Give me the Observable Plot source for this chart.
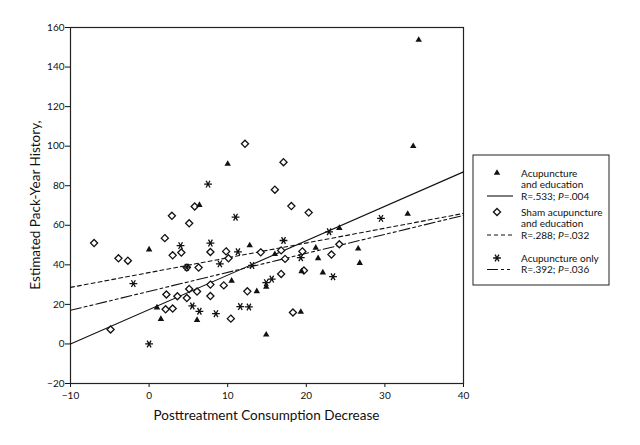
<!DOCTYPE html>
<html>
<head>
<meta charset="utf-8">
<script src="https://cdn.jsdelivr.net/npm/d3@7"></script>
<script src="https://cdn.jsdelivr.net/npm/@observablehq/plot@0.6"></script>
<style>
  body { margin: 0; background: #fff; }
  #chart { position: relative; width: 640px; height: 445px; }
</style>
</head>
<body>
<div id="chart"></div>
<script>
// ---- data ----
const seriesNames = ["Acupuncture and education", "Sham acupuncture and education", "Acupuncture only"];
const acuEdu = [
  [0.0,47.7],[6.4,70.2],[10.0,91.0],[1.0,18.4],[1.5,12.6],[6.1,12.1],[10.5,31.9],[12.8,49.8],
  [13.7,26.6],[14.9,28.8],[14.9,4.7],[16.0,45.4],[19.3,16.2],[19.4,36.7],[21.2,48.6],[21.5,43.3],
  [22.1,36.1],[24.2,58.6],[26.6,48.2],[26.8,40.9],[32.9,65.7],[33.6,100.0],[34.3,153.7]
];
const shamEdu = [
  [-7.0,51.0],[-3.9,43.3],[-2.7,42.1],[-4.9,7.3],[2.0,53.5],[2.9,64.8],[3.0,44.8],[4.1,46.2],
  [5.1,61.0],[5.8,69.5],[7.8,46.5],[4.8,38.6],[6.3,38.6],[2.2,25.0],[3.6,24.1],[4.8,23.2],
  [5.1,27.8],[6.1,26.5],[7.8,30.0],[7.8,24.2],[2.1,17.5],[3.0,17.9],[9.5,29.6],[10.4,12.8],
  [9.8,46.8],[10.1,43.3],[12.2,101.2],[12.5,26.6],[14.2,46.3],[16.0,78.0],[16.8,47.3],[17.1,91.9],
  [17.3,43.0],[16.8,35.4],[18.1,69.7],[18.3,15.9],[19.5,46.8],[19.7,37.1],[20.3,66.4],[23.2,45.2],
  [24.2,50.4]
];
const acuOnly = [
  [-2.0,30.5],[0.0,0.0],[4.0,49.7],[4.8,38.8],[5.5,19.2],[6.4,16.5],[7.5,80.8],[7.8,51.0],
  [8.5,15.3],[9.0,40.5],[11.0,64.1],[11.3,46.6],[11.6,18.9],[12.7,18.7],[13.1,39.7],[14.9,31.0],
  [15.6,32.8],[17.1,52.3],[19.3,43.6],[22.9,56.7],[23.4,34.0],[29.5,63.5]
];
// regression lines: y at x = -10 and x = 40
const fitX = [-10, 40];
const fitAcuEdu = [0, 87];
const fitShamEdu = [28.6, 66];
const fitAcuOnly = [17, 65];
const legendStats = [["R=.533; ", "P", "=.004"], ["R=.288; ", "P", "=.032"], ["R=.392; ", "P", "=.036"]];
const xTicks = [-10, 0, 10, 20, 30, 40];
const yTicks = [-20, 0, 20, 40, 60, 80, 100, 120, 140, 160];
const xTitle = "Posttreatment Consumption Decrease";
const yTitle = "Estimated Pack-Year History,";

// ---- helpers ----
const asterisk = {
  draw(ctx, size) {
    const r = Math.sqrt(size / Math.PI) * 1.15;
    for (const a of [0, Math.PI / 3, 2 * Math.PI / 3]) {
      const c = Math.cos(a) * r, s = Math.sin(a) * r;
      ctx.moveTo(-c, -s); ctx.lineTo(c, s);
    }
  }
};
const toRows = (arr) => arr.map(([x, y]) => ({x, y}));
const fitRows = (ys) => fitX.map((x, i) => ({x, y: ys[i]}));
const dashSham = "4,3";
const dashOnly = "11,3,3,3,3,3";
const ink = "#111";

const svg = Plot.plot({
  width: 640,
  height: 445,
  marginLeft: 70,
  marginRight: 177,
  marginTop: 27,
  marginBottom: 62,
  style: {fontFamily: "Lato, 'Open Sans', sans-serif", fontSize: "10px", color: ink, background: "#fff"},
  x: {domain: [-10, 40], ticks: xTicks, tickSize: 4, tickPadding: 4, label: null, tickFormat: d3.format("")},
  y: {domain: [-20, 160], ticks: yTicks, tickSize: 5, tickPadding: 1, label: null},
  marks: [
    Plot.frame({stroke: "#222", strokeWidth: 1.2}),
    Plot.line(fitRows(fitAcuEdu), {x: "x", y: "y", stroke: ink, strokeWidth: 1.1}),
    Plot.line(fitRows(fitShamEdu), {x: "x", y: "y", stroke: ink, strokeWidth: 1.1, strokeDasharray: dashSham}),
    Plot.line(fitRows(fitAcuOnly), {x: "x", y: "y", stroke: ink, strokeWidth: 1.1, strokeDasharray: dashOnly}),
    Plot.dot(toRows(shamEdu), {x: "x", y: "y", symbol: "diamond2", r: 3.2, fill: "white", stroke: ink, strokeWidth: 1.3}),
    Plot.dot(toRows(acuEdu), {x: "x", y: "y", symbol: "triangle", r: 2.4, fill: ink, stroke: "none"}),
    Plot.dot(toRows(acuOnly), {x: "x", y: "y", symbol: asterisk, r: 3.4, fill: "none", stroke: ink, strokeWidth: 1.3})
  ]
});

const s = d3.select(svg);
// axis titles
s.append("text")
  .attr("x", (70 + 463) / 2).attr("y", 420)
  .attr("text-anchor", "middle")
  .style("font-size", "13.5px").style("fill", ink)
  .text(xTitle);
s.append("text")
  .attr("transform", `translate(40,${(27 + 383) / 2}) rotate(-90)`)
  .attr("text-anchor", "middle")
  .style("font-size", "13.5px").style("fill", ink)
  .text(yTitle);

// legend
const lg = s.append("g").style("font-size", "10px").style("fill", ink).attr("text-anchor", "start");
lg.append("rect").attr("x", 473).attr("y", 155).attr("width", 136).attr("height", 130)
  .attr("fill", "white").attr("stroke", "#222").attr("stroke-width", 1);
const entries = [
  {sym: d3.symbol(d3.symbolTriangle, 2.4 * 2.4 * Math.PI)(), fill: ink, stroke: "none", sw: 0,
   lines: ["Acupuncture", "and education"], y0: 173, dash: null},
  {sym: d3.symbol(d3.symbolDiamond2, 3.2 * 3.2 * Math.PI)(), fill: "white", stroke: ink, sw: 1.3,
   lines: ["Sham acupuncture", "and education"], y0: 212, dash: dashSham},
  {sym: d3.symbol(asterisk, 3.4 * 3.4 * Math.PI)(), fill: "none", stroke: ink, sw: 1.3,
   lines: ["Acupuncture only"], y0: 258, dash: dashOnly}
];
entries.forEach((e, i) => {
  lg.append("path").attr("d", e.sym).attr("transform", `translate(497,${e.y0})`)
    .attr("fill", e.fill).attr("stroke", e.stroke).attr("stroke-width", e.sw);
  const lh = 11.5;
  e.lines.forEach((t, j) => {
    lg.append("text").attr("x", 521).attr("y", e.y0 + j * lh).attr("dy", "0.35em")
      .attr("text-anchor", "start").text(t);
  });
  const ys = e.y0 + e.lines.length * lh;
  const st = legendStats[i];
  const tx = lg.append("text").attr("x", 521).attr("y", ys).attr("dy", "0.35em").attr("text-anchor", "start");
  tx.append("tspan").text(st[0]);
  tx.append("tspan").style("font-style", "italic").text(st[1]);
  tx.append("tspan").text(st[2]);
  const ln = lg.append("line").attr("x1", 487).attr("x2", 513).attr("y1", ys).attr("y2", ys)
    .attr("stroke", ink).attr("stroke-width", 1.1);
  if (e.dash) ln.attr("stroke-dasharray", e.dash);
});

document.getElementById("chart").appendChild(svg);
</script>
</body>
</html>
